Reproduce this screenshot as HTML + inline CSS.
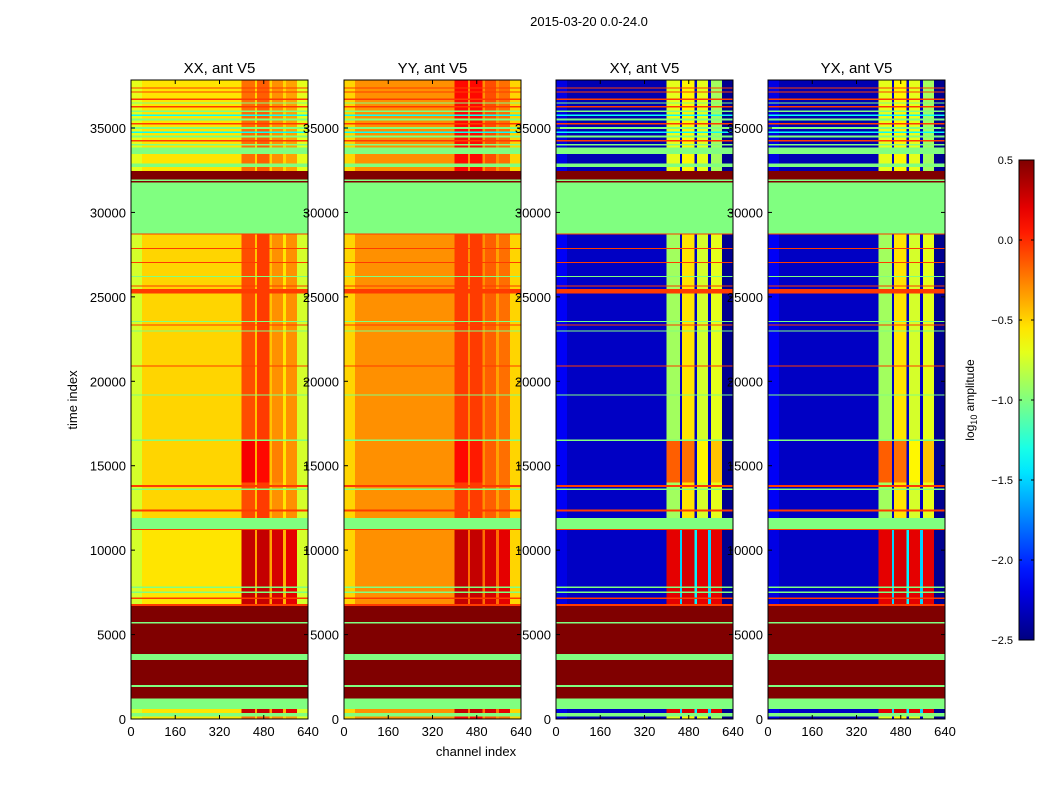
<!DOCTYPE html>
<html><head><meta charset="utf-8"><style>
body{margin:0;background:#fff;}
svg{display:block;font-family:"Liberation Sans",sans-serif;}
</style></head><body>
<svg id="fig" width="1050" height="800" viewBox="0 0 1050 800">
<text x="589" y="26" font-size="13" text-anchor="middle">2015-03-20 0.0-24.0</text>
<text x="0" y="0" font-size="13" text-anchor="middle" transform="translate(77,400) rotate(-90)">time index</text>
<text x="476" y="756" font-size="13" text-anchor="middle">channel index</text>
<g id="panels"></g>
<g id="cbar"></g>
</svg>
<script>
// ---- data ----
const panelNames = ["XX, ant V5","YY, ant V5","XY, ant V5","YX, ant V5"];
const chanEdges = [0,40,400,448,456,500,510,550,560,600,640];
const xxA = [-0.75,-0.55,0.3,-0.35,0.3,-0.35,0.25,-0.4,0.2,-0.75];
const xxB = [-0.75,-0.5,-0.1,-0.45,-0.05,-0.45,-0.3,-0.55,-0.3,-0.75];
const xxC = [-0.7,-0.55,-0.2,-0.5,-0.15,-0.5,-0.3,-0.5,-0.35,-0.7];
const xxD = [-0.75,-0.5,0.15,-0.4,0.1,-0.45,-0.25,-0.55,-0.3,-0.75];
const yyA = [-0.5,-0.3,0.3,-0.2,0.3,-0.2,0.25,-0.2,0.2,-0.5];
const yyB = [-0.5,-0.3,-0.05,-0.3,-0.05,-0.3,-0.15,-0.35,-0.2,-0.5];
const yyC = [-0.5,-0.3,0.1,-0.3,0.1,-0.3,-0.1,-0.3,-0.2,-0.5];
const yyD = [-0.5,-0.3,0.1,-0.3,0.05,-0.3,-0.15,-0.35,-0.2,-0.5];
const xyA = [-2.2,-2.3,0.2,-1.5,0.25,-1.4,0.2,-1.5,0.2,-2.45];
const xyB = [-2.15,-2.3,-0.9,-2.3,-0.55,-2.3,-0.75,-2.3,-0.7,-2.45];
const xyC = [-2.2,-2.35,-0.7,-2.3,-0.6,-2.3,-0.7,-2.3,-0.9,-2.45];
const xyD = [-2.15,-2.3,-0.15,-2.3,-0.2,-2.3,-0.6,-2.3,-0.45,-2.45];
const yxA = xyA, yxB = xyB, yxC = xyC, yxD = xyD;
const flagValue = -1.0, highValue = 0.6, rfiValue = -0.05, cyanValue = -1.35;
// time bands: start index and kind (each band ends where the next starts)
const bandStarts = [0,150,350,600,1200,1900,2000,3500,3850,5650,5750,6700,6800,7100,7200,7450,7550,7750,7850,11200,11250,11850,11900,12300,12420,13550,13650,13750,13850,14000,16450,16550,19150,19230,20870,20930,22940,23000,23300,23360,23520,23580,25200,25460,25610,25670,26190,26250,27010,27070,27840,27900,28690,28750,31760,31870,31950,32450,32700,32900,33450,33850,33950,34050,34200,34300,34450,34550,34700,34800,34950,35050,35200,35300,35450,35550,35700,35800,35950,36050,36200,36300,36450,36520,36650,36750,37100,37150,37350,37400];
const bandKinds  = ["C","F","A","F","H","F","H","F","H","G","H","R","A","R","A","G","A","G","A","R","F","G","B","R","B","G","B","R","B","D","G","B","G","B","R","B","G","B","R","B","G","B","R","B","R","B","G","B","R","B","R","B","R","F","H","F","H","C","F","C","F","C","G","C","R","C","G","C","L","C","G","C","R","C","G","C","L","C","G","C","R","C","G","C","R","C","R","C","R","C"];
const timeMax = 37850;
const cbTicks = [0.5,0.0,-0.5,-1.0,-1.5,-2.0,-2.5];
const yTicks = [0,5000,10000,15000,20000,25000,30000,35000];
const xTicks = [0,160,320,480,640];
</script>
<script>
const NS="http://www.w3.org/2000/svg";
const vmin=-2.5,vmax=0.5;
const panelX=[131,344,556,768], PW=177, PT=80, PB=719;
const profiles=[{A:xxA,B:xxB,C:xxC,D:xxD},{A:yyA,B:yyB,C:yyC,D:yyD},{A:xyA,B:xyB,C:xyC,D:xyD},{A:yxA,B:yxB,C:yxC,D:yxD}];
function cl(v){return Math.max(0,Math.min(1,v));}
function jet(v){const x=cl((v-vmin)/(vmax-vmin));
 const r=cl(1.5-Math.abs(4*x-3)),g=cl(1.5-Math.abs(4*x-2)),b=cl(1.5-Math.abs(4*x-1));
 return `rgb(${Math.round(r*255)},${Math.round(g*255)},${Math.round(b*255)})`;}
function yS(t){return PB-(t/35000)*(PB-128);}
function mk(tag,attrs,parent){const e=document.createElementNS(NS,tag);for(const k in attrs)e.setAttribute(k,attrs[k]);parent.appendChild(e);return e;}
const root=document.getElementById('panels');
panelNames.forEach((name,p)=>{
 const x0=panelX[p];const xS=c=>x0+c/640*PW;
 const g=mk('g',{},root);
 
 
 const hm=mk('g',{'shape-rendering':'crispEdges'},g);
 
 
 for(let i=0;i<bandStarts.length;i++){
  const k=bandKinds[i];
  const tEnd=i+1<bandStarts.length?bandStarts[i+1]:timeMax;
  const y1=yS(tEnd),y0=yS(bandStarts[i]);
  let vals=null,uni=null;
  if(k==='F'||k==='G')uni=flagValue;else if(k==='H')uni=highValue;else if(k==='R')uni=rfiValue;else if(k==='L')uni=cyanValue;else vals=profiles[p][k];
  for(let j=0;j<chanEdges.length-1;j++){
   const v=uni!==null?uni:vals[j];
   const r=mk('rect',{x:xS(chanEdges[j]),y:y1,width:xS(chanEdges[j+1])-xS(chanEdges[j])+0.3,height:Math.max(0.8,y0-y1),fill:jet(v)},hm);
   
   
  }
 }
 const fr=mk('rect',{x:x0,y:PT,width:PW,height:PB-PT,fill:'none',stroke:'#000','stroke-width':1},g);
 
 
 const tt=mk('text',{x:x0+PW/2,y:73,'font-size':15,'text-anchor':'middle'},g);tt.textContent=name;
 
 
 xTicks.forEach(c=>{const x=xS(c);
  mk('line',{x1:x,x2:x,y1:PB,y2:PB-4,stroke:'#000'},g);mk('line',{x1:x,x2:x,y1:PT,y2:PT+4,stroke:'#000'},g);
  const l=mk('text',{x:x,y:736,'font-size':13,'text-anchor':'middle'},g);l.textContent=c;
  
  });
 yTicks.forEach(t=>{const y=yS(t);
  mk('line',{x1:x0,x2:x0+4,y1:y,y2:y,stroke:'#000'},g);mk('line',{x1:x0+PW,x2:x0+PW-4,y1:y,y2:y,stroke:'#000'},g);
  const l=mk('text',{x:x0-5,y:y+5,'font-size':13,'text-anchor':'end'},g);l.textContent=t;
  
  });
});
// colorbar
const cb=document.getElementById('cbar');
const defs=mk('defs',{},cb);const lg=mk('linearGradient',{id:'jetg',x1:0,y1:1,x2:0,y2:0},defs);
for(let i=0;i<=20;i++){mk('stop',{offset:i/20,'stop-color':jet(vmin+(vmax-vmin)*i/20)},lg);}
const cbx=1019,cbt=160,cbb=640,cbw=15;
const cr=mk('rect',{x:cbx,y:cbt,width:cbw,height:cbb-cbt,fill:'url(#jetg)',stroke:'#000'},cb);


cbTicks.forEach(v=>{const y=cbb-(v-vmin)/(vmax-vmin)*(cbb-cbt);
 mk('line',{x1:cbx,x2:cbx+3,y1:y,y2:y,stroke:'#000'},cb);
 mk('line',{x1:cbx+cbw,x2:cbx+cbw-3,y1:y,y2:y,stroke:'#000'},cb);
 const l=mk('text',{x:1013,y:y+4,'font-size':11,'text-anchor':'end'},cb);l.textContent=(v<0?'\u2212':'')+Math.abs(v).toFixed(1);
 
 });
const cl2=mk('text',{'font-size':12,'text-anchor':'middle',transform:'translate(974,400) rotate(-90)'},cb);
cl2.innerHTML='log<tspan font-size="9" dy="3">10</tspan><tspan dy="-3"> amplitude</tspan>';


</script>
</body></html>
